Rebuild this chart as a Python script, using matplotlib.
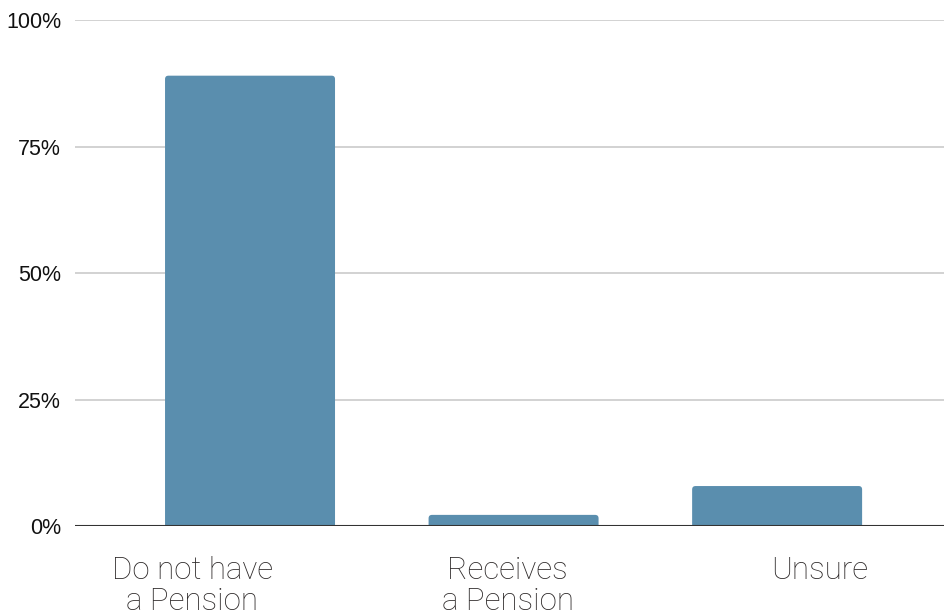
import matplotlib
matplotlib.use("Agg")
import matplotlib.pyplot as plt
from matplotlib.patches import FancyBboxPatch

categories = ["Do not have\na Pension", "Receives\na Pension", "Unsure"]
shares = [89.0, 2.2, 7.9]
y_ticks = [0, 25, 50, 75, 100]
y_tick_labels = ["0%", "25%", "50%", "75%", "100%"]

bar_color = "#5a8eae"
label_shift = [-0.22, -0.023, 0.163]

fig = plt.figure(figsize=(9.45, 6.14), dpi=100)
ax = fig.add_axes([0.0794, 0.1433, 0.9206, 0.8241])

x_left, x_right = -0.664, 2.637
ax.set_xlim(x_left, x_right)
ax.set_ylim(0, 100)

bar_w = 0.645
# rounded-top bars; aspect correction so the corner radius is circular on screen
ax_w_px = 0.9206 * 945
ax_h_px = 0.8241 * 614
aspect = (100 / ax_h_px) / ((x_right - x_left) / ax_w_px)
for i, v in enumerate(shares):
    patch = FancyBboxPatch((i - bar_w / 2, -2), bar_w, v + 2,
                           boxstyle="round,pad=0,rounding_size=0.013",
                           mutation_aspect=aspect,
                           facecolor=bar_color, edgecolor="none", zorder=3)
    ax.add_patch(patch)

ax.set_yticks(y_ticks)
ax.set_yticklabels(y_tick_labels, fontsize=15.5, family="Liberation Sans", color="#111111")
ax.tick_params(axis="y", length=0, pad=10)
ax.set_xticks([])
for gy in y_ticks[1:]:
    ax.axhline(gy, color="#cfcfcf", linewidth=1.3, zorder=1)
ax.axhline(0, color="#333333", linewidth=1.5, zorder=4)

for s in ax.spines.values():
    s.set_visible(False)

for i, lab in enumerate(categories):
    ax.text(i + label_shift[i], -5.9, lab, ha="center", va="top",
            fontsize=22.5, family="Roboto", fontweight="light",
            color="#2e2a2a", linespacing=1.1, transform=ax.transData,
            clip_on=False)

fig.savefig("out.png", dpi=100, facecolor="white")
